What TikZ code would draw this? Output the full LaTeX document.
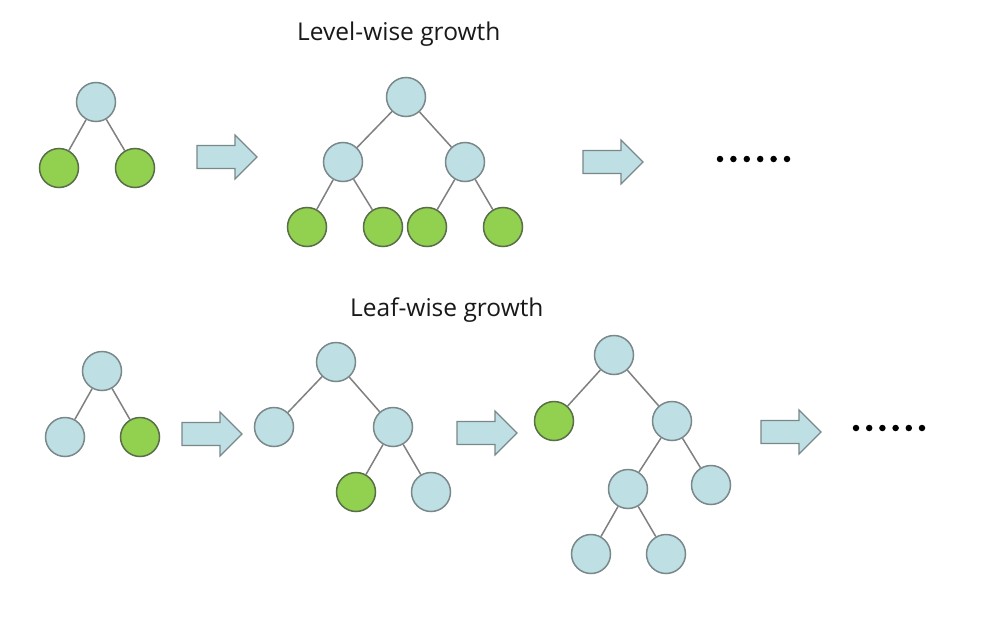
\documentclass[tikz,border=0pt]{standalone}
\usepackage{fontspec}
\setmainfont{Open Sans}
\definecolor{nodeblue}{RGB}{190,224,228}
\definecolor{nodegreen}{RGB}{146,208,80}
\definecolor{bordergray}{RGB}{122,136,138}
\definecolor{greenborder}{RGB}{88,110,72}
\definecolor{edgegray}{RGB}{128,128,128}
\tikzset{
  bnode/.style={circle, minimum size=39pt, inner sep=0pt, fill=nodeblue, draw=bordergray, line width=1.5pt},
  gnode/.style={circle, minimum size=39pt, inner sep=0pt, fill=nodegreen, draw=greenborder, line width=1.5pt},
  tedge/.style={draw=edgegray, line width=1.5pt},
  arrowfill/.style={fill=nodeblue, draw=bordergray, line width=1.2pt, line join=miter},
  title/.style={font=\fontsize{24.5}{29}\selectfont, anchor=base west, inner sep=0pt, text=black!90},
  dotmark/.style={circle, fill=black, inner sep=0pt, minimum size=6.5pt},
  bigarrow/.pic={\path[arrowfill] (0,-11.5) -- (38,-11.5) -- (38,-22) -- (60,0) -- (38,22) -- (38,11.5) -- (0,11.5) -- cycle;}
}
\begin{document}
\begin{tikzpicture}[x=1pt,y=-1pt]
\useasboundingbox[fill=white] (0,0) rectangle (991,624);

% titles
\node[title] (t1) at (297,40) {Level-wise growth};
\node[title] (t2) at (350,316) {Leaf-wise growth};

% Tree A
\node[bnode] (a0) at (96,102) {};
\node[gnode] (a1) at (59,168) {};
\node[gnode] (a2) at (135,168) {};
\draw[tedge] (a0) -- (a1); \draw[tedge] (a0) -- (a2);

% Tree B
\node[bnode] (b0) at (406,97) {};
\node[bnode] (b1) at (343,162) {};
\node[bnode] (b2) at (465,162) {};
\node[gnode] (b3) at (307,227) {};
\node[gnode] (b4) at (383,227) {};
\node[gnode] (b5) at (427,227) {};
\node[gnode] (b6) at (503,227) {};
\draw[tedge] (b0) -- (b1); \draw[tedge] (b0) -- (b2);
\draw[tedge] (b1) -- (b3); \draw[tedge] (b1) -- (b4);
\draw[tedge] (b2) -- (b5); \draw[tedge] (b2) -- (b6);

% Tree C
\node[bnode] (c0) at (102,371) {};
\node[bnode] (c1) at (65,437) {};
\node[gnode] (c2) at (140,437) {};
\draw[tedge] (c0) -- (c1); \draw[tedge] (c0) -- (c2);

% Tree D
\node[bnode] (d0) at (336,362) {};
\node[bnode] (d1) at (274,427) {};
\node[bnode] (d2) at (393,427) {};
\node[gnode] (d3) at (356,492) {};
\node[bnode] (d4) at (431,492) {};
\draw[tedge] (d0) -- (d1); \draw[tedge] (d0) -- (d2);
\draw[tedge] (d2) -- (d3); \draw[tedge] (d2) -- (d4);

% Tree E
\node[bnode] (e0) at (614,355) {};
\node[gnode] (e1) at (554,421) {};
\node[bnode] (e2) at (672,421) {};
\node[bnode] (e3) at (628,489) {};
\node[bnode] (e4) at (711,485) {};
\node[bnode] (e5) at (591,554) {};
\node[bnode] (e6) at (666,554) {};
\draw[tedge] (e0) -- (e1); \draw[tedge] (e0) -- (e2);
\draw[tedge] (e2) -- (e3); \draw[tedge] (e2) -- (e4);
\draw[tedge] (e3) -- (e5); \draw[tedge] (e3) -- (e6);

% block arrows
\pic at (197,157) {bigarrow};
\pic at (583,162) {bigarrow};
\pic at (182,434) {bigarrow};
\pic at (457,433) {bigarrow};
\pic at (761,432) {bigarrow};

% dots
\foreach \i in {0,...,5} {
  \node[dotmark] (p\i) at ({720+13.4*\i},159) {};
  \node[dotmark] (q\i) at ({856+13.2*\i},428) {};
}
\end{tikzpicture}
\end{document}
